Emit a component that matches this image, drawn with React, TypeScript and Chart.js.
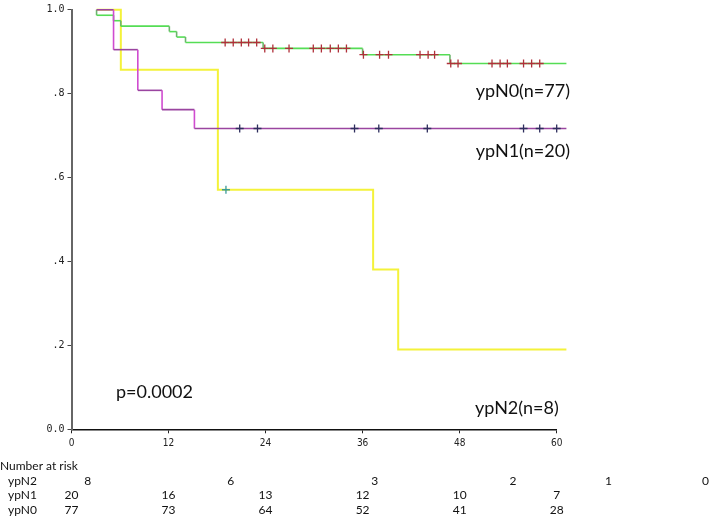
import React, { useEffect, useRef } from 'react';
import { Chart, registerables } from 'chart.js';

Chart.register(...registerables);

// ---- data (months / survival) ----
const START = 3.1;
const END = 61.2;

const n0Times = [3.1, 5.2, 6.1, 12.1, 13.0, 14.1, 23.7, 36.0, 46.8];
const n0Surv = [0.987, 0.974, 0.961, 0.948, 0.935, 0.922, 0.908, 0.893, 0.872];
const n0Censor = [19.0, 20.0, 21.0, 21.9, 22.9, 23.9, 24.9, 26.9, 29.9, 30.9, 32.0, 33.0, 34.0, 36.1, 38.1, 39.2, 43.1, 44.1, 44.9, 46.9, 47.8, 52.0, 53.0, 53.9, 55.9, 56.9, 57.9];

const n1Times = [5.2, 8.2, 11.2, 15.2];
const n1Surv = [0.905, 0.808, 0.762, 0.717];
const n1Censor = [20.8, 23.0, 35.0, 38.0, 44.0, 55.9, 57.9, 60.0];

const n2Times = [6.1, 18.1, 37.3, 40.4];
const n2Surv = [0.857, 0.571, 0.381, 0.19];
const n2Censor = [19.1];

const xTicks = [0, 12, 24, 36, 48, 60];
const yTickLabels = ['0.0', '.2', '.4', '.6', '.8', '1.0'];

const riskNames = ['ypN2', 'ypN1', 'ypN0'];
const riskN2 = [8, 6, 3, 2, 1, 0];
const riskN2At = [2.0, 19.7, 37.5, 54.6, 66.4, 78.4];
const riskN1 = [20, 16, 13, 12, 10, 7];
const riskN0 = [77, 73, 64, 52, 41, 28];

const curveLabels = ['ypN0(n=77)', 'ypN1(n=20)', 'ypN2(n=8)'];
const pValueText = 'p=0.0002';

// ---- helpers ----
function stepPoints(times: number[], surv: number[]) {
  const pts: { x: number; y: number }[] = [{ x: START, y: 1 }];
  let prev = 1;
  times.forEach((t, i) => {
    pts.push({ x: t, y: prev });
    pts.push({ x: t, y: surv[i] });
    prev = surv[i];
  });
  pts.push({ x: END, y: prev });
  return pts;
}

function levelAt(times: number[], surv: number[], t: number) {
  let v = 1;
  times.forEach((tt, i) => {
    if (tt <= t) v = surv[i];
  });
  return v;
}

function censorPoints(times: number[], surv: number[], cens: number[]) {
  return cens.map((t) => ({ x: t, y: levelAt(times, surv, t) }));
}

function segColor(h: string, v: string) {
  return (ctx: any) => (ctx.p0.parsed.x === ctx.p1.parsed.x ? v : h);
}

const textPlugin = {
  id: 'kmTexts',
  afterDraw(chart: any) {
    const { ctx } = chart;
    const x = chart.scales.x;
    const y = chart.scales.y;
    ctx.save();
    ctx.fillStyle = '#111';
    ctx.textBaseline = 'middle';
    ctx.textAlign = 'left';
    ctx.font = '18px Lato';
    ctx.fillText(curveLabels[0], x.getPixelForValue(50.0), y.getPixelForValue(0.805));
    ctx.fillText(curveLabels[1], x.getPixelForValue(50.0), y.getPixelForValue(0.662));
    ctx.fillText(curveLabels[2], x.getPixelForValue(49.9), y.getPixelForValue(0.051));
    ctx.fillText(pValueText, x.getPixelForValue(5.5), y.getPixelForValue(0.089));

    const base = y.getPixelForValue(0);
    ctx.font = '12px Lato';
    ctx.fillText('Number at risk', 0, base + 37);
    const rows = [
      { vals: riskN2, at: riskN2At },
      { vals: riskN1, at: xTicks },
      { vals: riskN0, at: xTicks },
    ];
    rows.forEach((row, i) => {
      const yy = base + 51.5 + i * 14.5;
      ctx.textAlign = 'left';
      ctx.fillText(riskNames[i], 8, yy);
      ctx.textAlign = 'center';
      row.vals.forEach((v, j) => {
        ctx.fillText(String(v), x.getPixelForValue(row.at[j]), yy);
      });
    });
    ctx.restore();
  },
};

export default function App() {
  const ref = useRef<HTMLCanvasElement>(null);

  useEffect(() => {
    if (!ref.current) return;
    const crossBase = {
      type: 'scatter' as const,
      pointStyle: 'cross',
      pointRadius: 4,
      pointBorderWidth: 1.3,
      showLine: false,
      clip: false as any,
    };
    const chart = new Chart(ref.current, {
      type: 'line',
      data: {
        datasets: [
          {
            ...crossBase,
            data: censorPoints(n0Times, n0Surv, n0Censor),
            borderColor: '#b0303a',
            backgroundColor: '#b0303a',
          } as any,
          {
            ...crossBase,
            data: censorPoints(n1Times, n1Surv, n1Censor),
            borderColor: '#2e2e5e',
            backgroundColor: '#2e2e5e',
          } as any,
          {
            ...crossBase,
            data: censorPoints(n2Times, n2Surv, n2Censor),
            borderColor: '#3a9a9a',
            backgroundColor: '#3a9a9a',
          } as any,
          {
            type: 'line',
            data: stepPoints(n1Times, n1Surv),
            borderColor: '#9a45a0',
            borderWidth: 1.6,
            pointRadius: 0,
            clip: false as any,
            segment: { borderColor: segColor('#9a45a0', '#d04cd0') },
          } as any,
          {
            type: 'line',
            data: stepPoints(n0Times, n0Surv),
            borderColor: '#55dd55',
            borderWidth: 1.6,
            pointRadius: 0,
            clip: false as any,
            segment: { borderColor: segColor('#55dd55', '#6db56d') },
          } as any,
          {
            type: 'line',
            data: stepPoints(n2Times, n2Surv),
            borderColor: '#f4f23a',
            borderWidth: 2,
            pointRadius: 0,
            clip: false as any,
          } as any,
        ],
      },
      options: {
        responsive: false,
        animation: false,
        devicePixelRatio: 1,
        parsing: false as any,
        layout: { padding: { left: 0, right: 152.3, top: 9.8, bottom: 0 } },
        plugins: { legend: { display: false }, tooltip: { enabled: false } },
        scales: {
          x: {
            type: 'linear',
            min: 0,
            max: 60,
            afterBuildTicks: (s: any) => {
              s.ticks = xTicks.map((v) => ({ value: v }));
            },
            afterFit: (s: any) => {
              s.height = 86.7;
            },
            ticks: {
              font: { family: 'Liberation Sans Narrow, DejaVu Sans Condensed, sans-serif', size: 10 },
              color: '#222',
              padding: 4,
              maxRotation: 0,
            },
            grid: { display: true, drawOnChartArea: false, drawTicks: true, tickLength: 4, color: '#222', lineWidth: 1 },
            border: { display: true, color: '#111', width: 1.5 },
          },
          y: {
            type: 'linear',
            min: 0,
            max: 1,
            afterBuildTicks: (s: any) => {
              s.ticks = yTickLabels.map((_, i) => ({ value: i * 0.2 }));
            },
            afterFit: (s: any) => {
              s.width = 71.5;
            },
            ticks: {
              font: { family: 'DejaVu Sans Mono, monospace', size: 10 },
              color: '#222',
              padding: 3,
              callback: (_v: any, i: number) => yTickLabels[i],
            },
            grid: { display: true, drawOnChartArea: false, drawTicks: true, tickLength: 4, color: '#444', lineWidth: 1 },
            border: { display: true, color: '#666', width: 2 },
          },
        },
      },
      plugins: [textPlugin],
    });
    return () => chart.destroy();
  }, []);

  return (
    <div style={{ position: 'fixed', left: 0, top: 0, width: 709, height: 516, background: '#fff' }}>
      <canvas ref={ref} width={709} height={516} />
    </div>
  );
}
